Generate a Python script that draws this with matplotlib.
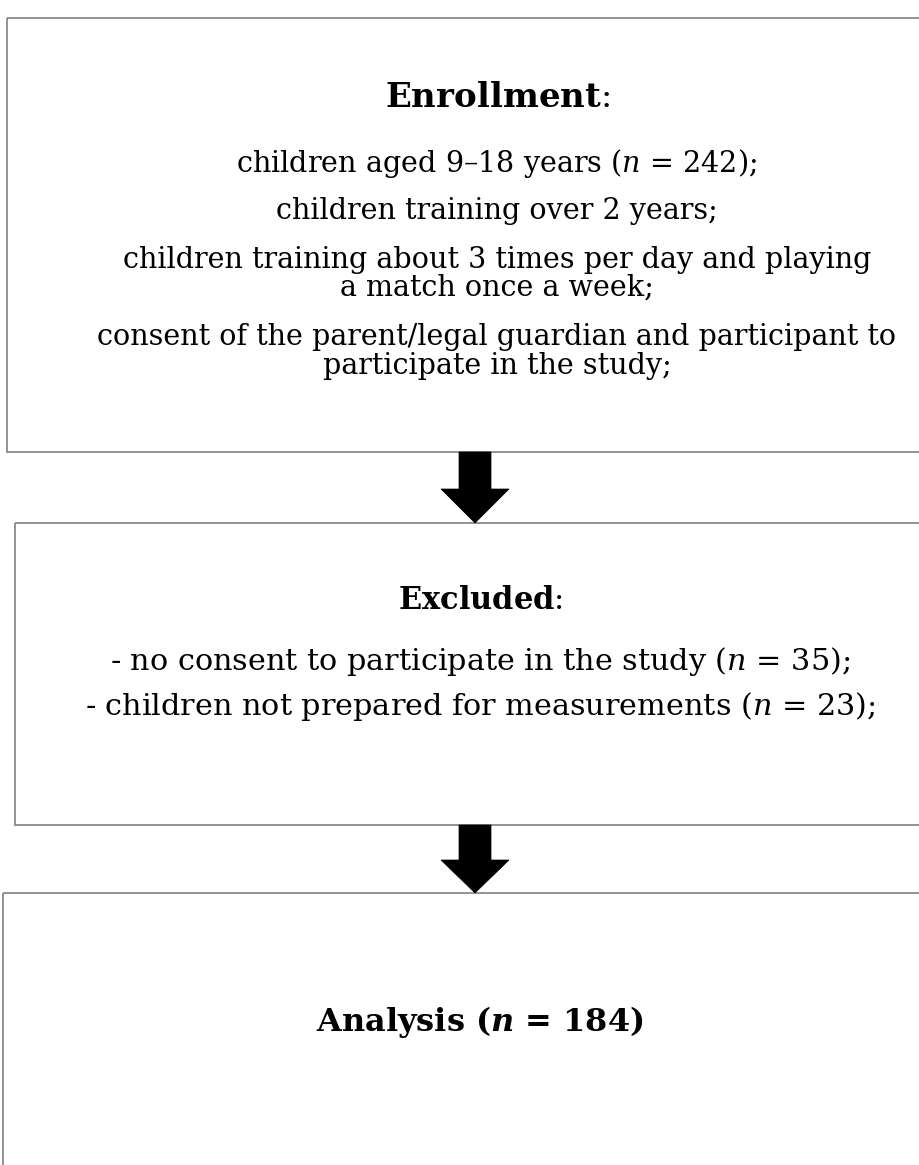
import matplotlib
matplotlib.use("Agg")
import matplotlib.pyplot as plt
from matplotlib.patches import Rectangle, Polygon

plt.rcParams['font.family'] = ['DejaVu Serif']
plt.rcParams['mathtext.fontset'] = 'custom'
plt.rcParams['mathtext.rm'] = 'DejaVu Serif'
plt.rcParams['mathtext.it'] = 'DejaVu Serif:italic'
plt.rcParams['mathtext.bf'] = 'DejaVu Serif:bold'
plt.rcParams['mathtext.bfit'] = 'DejaVu Serif:italic:bold'

# box contents
titles = [r"$\mathbf{Enrollment}$:", r"$\mathbf{Excluded}$:", "Analysis ($\\mathbfit{n}$ = 184)"]
enroll_lines = [
    r"children aged 9–18 years ($\mathit{n}$ = 242);",
    "children training over 2 years;",
    "children training about 3 times per day and playing",
    "a match once a week;",
    "consent of the parent/legal guardian and participant to",
    "participate in the study;",
]
excluded_lines = [
    r"- no consent to participate in the study ($\mathit{n}$ = 35);",
    r"- children not prepared for measurements ($\mathit{n}$ = 23);",
]

W, H = 920, 1165
fig = plt.figure(figsize=(W / 100, H / 100), dpi=100)
ax = fig.add_axes([0, 0, 1, 1])
ax.set_xlim(0, W)
ax.set_ylim(H, 0)
ax.axis('off')

edge = '#8a8a8a'
# (left, top, bottom)
boxes = [(7, 18, 452), (15, 523, 825), (3, 893, 1172)]
for left, top, bottom in boxes:
    ax.add_patch(Rectangle((left, top), W + 20 - left, bottom - top,
                           fill=False, ec=edge, lw=1.3))


def arrow(y0, y1, head):
    cx = 475
    pts = [(cx - 16, y0), (cx + 16, y0), (cx + 16, head), (cx + 34, head),
           (cx, y1), (cx - 34, head), (cx - 16, head)]
    ax.add_patch(Polygon(pts, closed=True, fc='black', ec='black', lw=0.5))


arrow(452, 523, 489)
arrow(825, 893, 860)

# box 1
cx1 = 497
ax.text(cx1, 107, titles[0], ha='center', va='baseline', fontsize=24.5)
ys = [172, 219, 268, 296, 345, 374]
for y, line in zip(ys, enroll_lines):
    ax.text(cx1, y, line, ha='center', va='baseline', fontsize=20.6)

# box 2
cx2 = 480
ax.text(cx2, 609, titles[1], ha='center', va='baseline', fontsize=22)
for y, line in zip([670, 715], excluded_lines):
    ax.text(cx2, y, line, ha='center', va='baseline', fontsize=21.8)

# box 3
ax.text(480, 1031, titles[2], ha='center', va='baseline', fontsize=23,
        fontweight='bold')

fig.savefig('out.png', dpi=100)
